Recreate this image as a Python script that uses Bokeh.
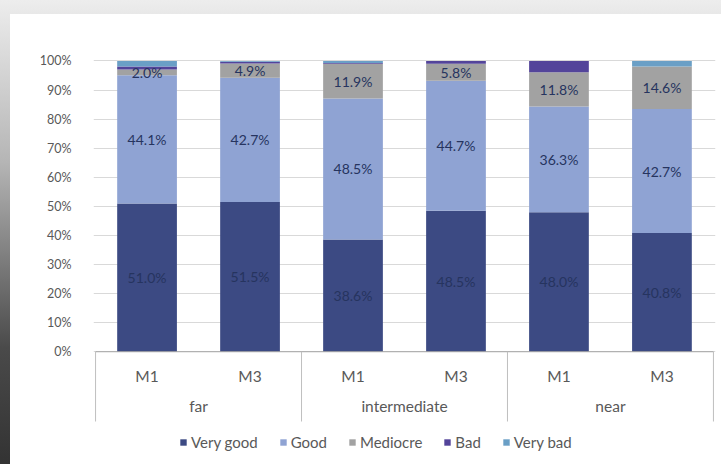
from bokeh.plotting import figure
from bokeh.models import (ColumnDataSource, FactorRange, FixedTicker, PrintfTickFormatter,
                          Legend, LegendItem, Range1d)
from bokeh.layouts import column
from bokeh.core.properties import value
from bokeh.embed import file_html
from bokeh.resources import INLINE

# Share of ratings (%) per viewing distance and method
distances = ["far", "intermediate", "near"]
methods = ["M1", "M3"]
ratings = ["Very good", "Good", "Mediocre", "Bad", "Very bad"]
very_good = [51.0, 51.5, 38.6, 48.5, 48.0, 40.8]
good = [44.1, 42.7, 48.5, 44.7, 36.3, 42.7]
mediocre = [2.0, 4.9, 11.9, 5.8, 11.8, 14.6]
bad = [1.0, 0.6, 0.3, 1.0, 3.9, 0.0]
very_bad = [1.9, 0.3, 0.7, 0.0, 0.0, 1.9]
y_ticks = [0, 10, 20, 30, 40, 50, 60, 70, 80, 90, 100]

colors = ["#3c4a83", "#8fa3d3", "#a2a2a2", "#53449a", "#6a9fc6"]
FONT = "Lato"
AXIS_TEXT = "#595959"
LINE_GRAY = "#bfbfbf"

factors = [(d, m) for d in distances for m in methods]

src = ColumnDataSource(dict(
    x=factors, **{"Very good": very_good, "Good": good, "Mediocre": mediocre,
                  "Bad": bad, "Very bad": very_bad}))

# a sliver of absolute padding keeps the outer group separators inside the frame
p = figure(
    x_range=FactorRange(*factors, factor_padding=0, group_padding=0,
                        range_padding=0.02, range_padding_units="absolute"),
    y_range=Range1d(-35, 100.5),
    width=711, height=450, margin=(14, 0, 0, 10),
    x_axis_location=None, toolbar_location=None, output_backend="svg",
    min_border_left=83, min_border_right=6, min_border_top=45, min_border_bottom=11,
)
p.outline_line_color = None
p.background_fill_color = "white"
p.border_fill_color = "white"

# gridlines and percentage axis
p.xgrid.visible = False
p.ygrid.ticker = FixedTicker(ticks=y_ticks)
p.ygrid.grid_line_color = "#d9d9d9"
p.yaxis.ticker = FixedTicker(ticks=y_ticks)
p.yaxis.formatter = PrintfTickFormatter(format="%d%%")
p.yaxis.axis_line_color = None
p.yaxis.major_tick_line_color = None
p.yaxis.minor_tick_line_color = None
p.yaxis.major_label_standoff = 16
p.yaxis.major_label_text_font = FONT
p.yaxis.major_label_text_font_size = "12.5px"
p.yaxis.major_label_text_color = AXIS_TEXT

# stacked bars
renderers = p.vbar_stack(ratings, x="x", width=0.58, color=colors, line_color=None, source=src)

# value labels for the three largest categories, centred in their segment
lx, ly, lt = [], [], []
for i, f in enumerate(factors):
    base = 0.0
    for series in (very_good, good, mediocre):
        v = series[i]
        lx.append(f)
        ly.append(base + v / 2)
        lt.append(f"{v:.1f}%")
        base += v
p.text(x="x", y="y", text="t", source=ColumnDataSource(dict(x=lx, y=ly, t=lt)),
       text_align="center", text_baseline="middle", text_font=value(FONT),
       text_font_size="14px", text_color="#26345f")

# baseline and two-level category axis drawn below zero
p.segment(x0=[("far", "M1", -0.5)], y0=0, x1=[("near", "M3", 0.5)], y1=0,
          line_color="#a6a6a6", line_width=1)
sep_x = [("far", "M1", -0.5), ("intermediate", "M1", -0.5),
         ("near", "M1", -0.5), ("near", "M3", 0.5)]
p.segment(x0="x", y0=0, x1="x", y1=-24, source=ColumnDataSource(dict(x=sep_x)),
          line_color=LINE_GRAY, line_width=1)
p.text(x="x", y=-8.2, text="t",
       source=ColumnDataSource(dict(x=factors, t=[m for _, m in factors])),
       text_align="center", text_baseline="middle", text_font=value(FONT),
       text_font_size="15.5px", text_color=AXIS_TEXT)
p.text(x="x", y=-18.6, text="t",
       source=ColumnDataSource(dict(x=distances, t=distances)),
       text_align="center", text_baseline="middle", text_font=value(FONT),
       text_font_size="15.5px", text_color=AXIS_TEXT)

legend = Legend(
    items=[LegendItem(label=name, renderers=[r]) for name, r in zip(ratings, renderers)],
    orientation="horizontal", location=(86, 2),
    border_line_color=None, background_fill_alpha=0,
    glyph_width=8, glyph_height=8, label_standoff=4, spacing=21,
    padding=0, margin=0,
    label_text_font=FONT, label_text_font_size="15px", label_text_color=AXIS_TEXT,
)
p.add_layout(legend)

# white panel behind the chart, grey band on top and shaded strip on the left
page = column(p, styles={
    "background": ("linear-gradient(#ffffff, #ffffff) 10px 14px / 711px 450px no-repeat, "
                   "linear-gradient(to bottom, #ededed 0%, #b5b5b5 35%, #4a4a4a 75%, #333333 100%)")
})

with open("out.html", "w") as fh:
    fh.write(file_html(page, INLINE))
